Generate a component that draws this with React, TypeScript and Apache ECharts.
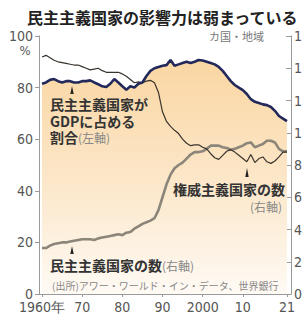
import React, { useEffect, useRef } from "react";
import * as echarts from "echarts";

const startYear = 1960;
// Share of world GDP held by democracies (%), left axis, 1960-2021
const gdpShare = [
  81.5, 82, 83, 83.3, 82.5, 82, 82.5, 82.5, 82, 82,
  82.5, 82.5, 82.8, 82, 81.3, 80.5, 80.2, 81.5, 83.3, 82,
  80.5, 79.2, 80.5, 80, 81.5, 82, 84.5, 86.5, 87.5, 88,
  88.5, 88.7, 90.7, 88.5, 89, 89.5, 90, 89.5, 90, 90.7,
  90.5, 90, 89.5, 89, 88, 86.5, 84.5, 82.5, 81, 80,
  79, 77.5, 75.5, 74.5, 74, 73.5, 73.2, 72.5, 71, 69,
  68, 67,
];
// Number of authoritarian countries/regions, right axis
const autocracies = [
  147, 148, 146.5, 145, 144, 143.5, 143, 142.5, 142, 142,
  141, 140, 139, 139.5, 140, 138.5, 137.5, 137.5, 137.5, 137.5,
  136.5, 135, 133, 131, 131.5, 131, 132, 132.5, 131, 125,
  113, 107, 104, 101.5, 99.5, 96, 93.5, 92, 92.5, 92.5,
  91, 90, 87, 84.5, 83.5, 86, 88.5, 89.5, 88, 86,
  84, 82, 86.5, 81.5, 84, 85, 82, 81, 82.5, 85,
  88, 88,
];
// Number of democratic countries/regions, right axis
const democracies = [
  28.5, 28.5, 30, 31, 31.5, 32, 32, 32.5, 33, 33.5,
  34, 34, 34, 33.5, 34.5, 35, 35.5, 36, 36.5, 37,
  36.5, 38, 38.5, 40.5, 42, 43.5, 44.5, 45.5, 47, 52,
  60, 68, 74, 78, 80, 81.5, 84, 86.5, 88, 88,
  88.5, 90, 92, 92, 92, 91, 90.5, 89.5, 90, 91,
  92, 93.5, 94, 91, 92, 93, 95, 95, 94, 90,
  88.5, 88.5,
];
const xTickYears = [1960, 1970, 1980, 1990, 2000, 2010, 2021];
const xTickLabels = ["1960年", "70", "80", "90", "2000", "10", "21"];

const JP = '"Noto Sans CJK JP", sans-serif';
const NUM = '"Liberation Sans Narrow", "DejaVu Sans Condensed", "Liberation Sans", sans-serif';

const toPairs = (arr: number[]) => arr.map((v, i) => [startYear + i, v]);

export default function App() {
  const ref = useRef<HTMLDivElement>(null);
  useEffect(() => {
    if (!ref.current) return;
    const chart = echarts.init(ref.current, null, { renderer: "svg" });
    const axisLineStyle = { color: "#9a9a9a", width: 1 };
    chart.setOption({
      animation: false,
      grid: { left: 39, top: 36, right: 11, bottom: 24, outerBoundsMode: "none", containLabel: false },
      xAxis: {
        type: "value",
        min: 1959.25,
        max: 2022,
        axisLine: { show: true, lineStyle: axisLineStyle },
        axisTick: { show: true, customValues: xTickYears, length: 3, lineStyle: axisLineStyle },
        axisLabel: {
          customValues: xTickYears,
          formatter: (v: number) => xTickLabels[xTickYears.indexOf(Math.round(v))] ?? "",
          margin: 6,
          fontSize: 14,
          color: "#555",
          fontFamily: NUM,
        },
        splitLine: { show: false },
      },
      yAxis: [
        {
          type: "value",
          min: 0,
          max: 100,
          interval: 20,
          axisLine: { show: true, lineStyle: axisLineStyle },
          axisTick: { show: true, length: 4, lineStyle: axisLineStyle },
          axisLabel: { margin: 6, fontSize: 14, color: "#555", fontFamily: NUM },
          splitLine: { show: false },
        },
        {
          type: "value",
          min: 0,
          max: 160,
          interval: 20,
          position: "right",
          axisLine: { show: true, lineStyle: axisLineStyle },
          axisTick: { show: true, inside: true, length: 5, lineStyle: axisLineStyle },
          axisLabel: { margin: 3, fontSize: 14, color: "#555", fontFamily: NUM },
          splitLine: { show: false },
        },
      ],
      series: [
        {
          type: "line",
          data: toPairs(gdpShare),
          yAxisIndex: 0,
          symbol: "none",
          lineStyle: { width: 0 },
          areaStyle: {
            opacity: 1,
            color: new echarts.graphic.LinearGradient(0, 0, 0, 1, [
              { offset: 0, color: "#fad6a2" },
              { offset: 0.55, color: "#fce8cc" },
              { offset: 1, color: "#fefaf4" },
            ]),
          },
          silent: true,
          z: 1,
        },
        {
          type: "line",
          data: toPairs(democracies),
          yAxisIndex: 1,
          symbol: "none",
          lineStyle: { width: 2.6, color: "#8c8579" },
          z: 2,
        },
        {
          type: "line",
          data: toPairs(autocracies),
          yAxisIndex: 1,
          symbol: "none",
          lineStyle: { width: 1.2, color: "#3a342e" },
          z: 3,
        },
        {
          type: "line",
          data: toPairs(gdpShare),
          yAxisIndex: 0,
          symbol: "none",
          lineStyle: { width: 2.6, color: "#22295a" },
          z: 4,
        },
      ],
      graphic: {
        elements: [
          {
            type: "text",
            left: 27,
            top: 9,
            z: 100,
            style: { text: "民主主義国家の影響力は弱まっている", fontSize: 16, fontWeight: "bold", fill: "#222", fontFamily: JP },
          },
          {
            type: "text",
            x: 25,
            y: 50,
            z: 100,
            style: { text: "%", fontSize: 13, fill: "#555", fontFamily: NUM, align: "center", verticalAlign: "middle" },
          },
          {
            type: "text",
            x: 264,
            y: 36,
            z: 100,
            style: { text: "カ国・地域", fontSize: 11, fill: "#777", fontFamily: JP, align: "right", verticalAlign: "middle" },
          },
          {
            type: "text",
            x: 50,
            y: 96,
            z: 100,
            style: {
              text: "{a|民主主義国家が}\n{a|GDPに占める}\n{a|割合}{b|(左軸)}",
              fontFamily: JP,
              rich: {
                a: { fontSize: 14, lineHeight: 16.5, fill: "#333", fontWeight: "bold", fontFamily: JP },
                b: { fontSize: 12, lineHeight: 16.5, fill: "#888", fontFamily: JP },
              },
            },
          },
          {
            type: "text",
            x: 285,
            y: 189,
            z: 100,
            style: { text: "権威主義国家の数", fontSize: 14, fontWeight: "bold", fill: "#333", fontFamily: JP, align: "right", verticalAlign: "middle" },
          },
          {
            type: "text",
            x: 282,
            y: 206,
            z: 100,
            style: { text: "(右軸)", fontSize: 12, fill: "#888", fontFamily: JP, align: "right", verticalAlign: "middle" },
          },
          {
            type: "text",
            x: 50,
            y: 265,
            z: 100,
            style: {
              text: "{a|民主主義国家の数}{b|(右軸)}",
              verticalAlign: "middle",
              fontFamily: JP,
              rich: {
                a: { fontSize: 14, fill: "#333", fontWeight: "bold", fontFamily: JP },
                b: { fontSize: 12, fill: "#888", fontFamily: JP },
              },
            },
          },
          {
            type: "text",
            x: 52,
            y: 285,
            z: 100,
            style: { text: "(出所)アワー・ワールド・イン・データ、世界銀行", fontSize: 10, fill: "#888", fontFamily: JP, verticalAlign: "middle" },
          },
          { type: "polygon", z: 100, shape: { points: [[72, 86], [70.3, 94], [73.7, 94]] }, style: { fill: "#222" } },
          { type: "polygon", z: 100, shape: { points: [[72, 246], [70.3, 254], [73.7, 254]] }, style: { fill: "#222" } },
          { type: "polygon", z: 100, shape: { points: [[247, 168], [245.3, 177], [248.7, 177]] }, style: { fill: "#222" } },
        ],
      },
    });
    return () => chart.dispose();
  }, []);
  return (
    <div style={{ position: "fixed", left: 0, top: 0, width: 302, height: 318, overflow: "hidden", background: "#fff" }}>
      <div ref={ref} style={{ width: 302, height: 318 }} />
    </div>
  );
}
